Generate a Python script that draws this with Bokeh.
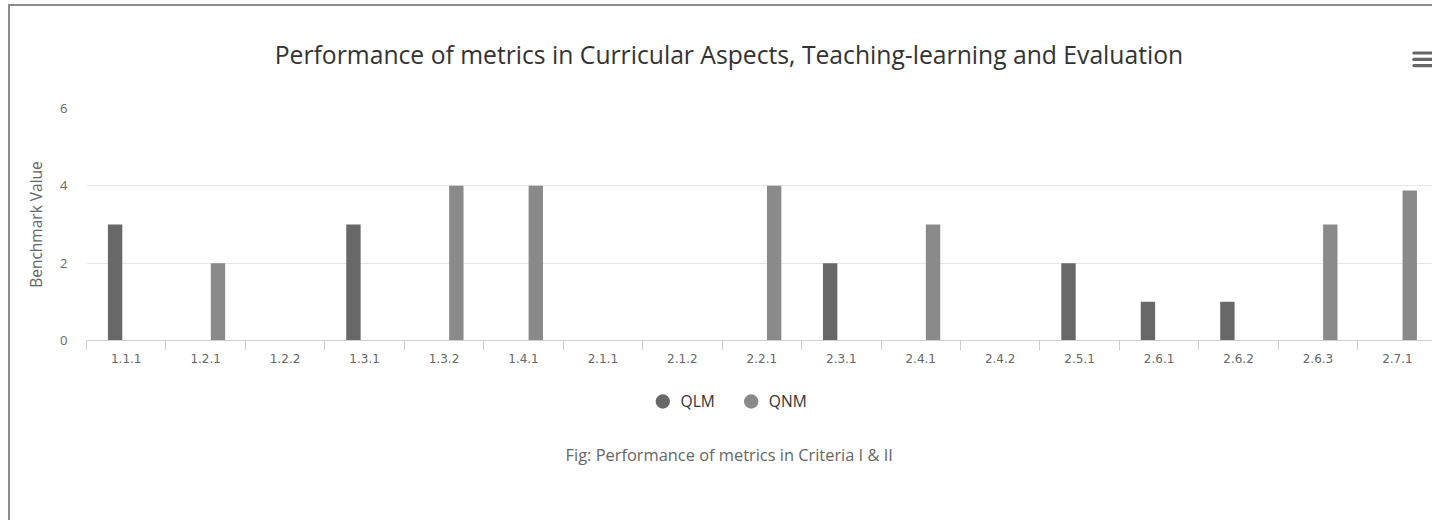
from bokeh.plotting import figure
from bokeh.layouts import column
from bokeh.models import Range1d, FixedTicker
from bokeh.core.properties import value
from bokeh.embed import file_html
from bokeh.resources import INLINE

# ---------------- data ----------------
categories = ["1.1.1", "1.2.1", "1.2.2", "1.3.1", "1.3.2", "1.4.1", "2.1.1", "2.1.2",
              "2.2.1", "2.3.1", "2.4.1", "2.4.2", "2.5.1", "2.6.1", "2.6.2", "2.6.3", "2.7.1"]
qlm = [3, 0, 0, 3, 0, 0, 0, 0, 0, 2, 0, 0, 2, 1, 1, 0, 0]
qnm = [0, 2, 0, 0, 4, 4, 0, 0, 4, 0, 3, 0, 0, 0, 0, 3, 3.88]
series_names = ["QLM", "QNM"]
y_ticks = [0, 2, 4, 6]

title_text = "Performance of metrics in Curricular Aspects, Teaching-learning and Evaluation"
caption_text = "Fig: Performance of metrics in Criteria I & II"
y_label = "Benchmark Value"

# ---------------- styling / geometry (page pixels) ----------------
C_QLM = "#686868"
C_QNM = "#8a8a8a"
BORDER = 2
X0, Y0 = 8 + BORDER, 4 + BORDER       # page position of content
W = 1432 - X0
TOP_H, MAIN_H = 90, 290
BOT_H = 520 - Y0 - TOP_H - MAIN_H
MAIN_TOP = Y0 + TOP_H                 # page y of main figure
FR_L, FR_T, FR_B = 86, 108, 340       # page frame edges
XU = 79.45                            # px per category
X_END = (1432 - FR_L) / XU


def deco_fig(y_top, h):
    f = figure(width=W, height=h, x_range=Range1d(FR_L, 1432), y_range=Range1d(y_top + h, y_top),
               output_backend="svg", toolbar_location=None, title=None,
               x_axis_location=None, y_axis_location=None,
               min_border_left=FR_L - X0, min_border_right=0, min_border_top=0, min_border_bottom=0)
    f.outline_line_color = None
    f.grid.visible = False
    f.background_fill_color = "white"
    f.border_fill_color = "white"
    return f


# ---------- top: title + menu icon ----------
top = deco_fig(Y0, TOP_H)
top.text(x=[728.5], y=[53.5], text=[title_text], text_align="center",
         text_baseline="alphabetic", text_font=value("Open Sans"),
         text_font_size="24.7px", text_color="#333333")
for yc in (52.5, 58.8, 65.1):
    top.segment(x0=[1413.4], y0=[yc], x1=[1450], y1=[yc], line_width=3.2,
                line_color="#666666", line_cap="round")

# ---------- main chart ----------
p = figure(width=W, height=MAIN_H, x_range=Range1d(0, X_END), y_range=Range1d(0, 6),
           output_backend="svg", toolbar_location=None, title=None,
           min_border_left=FR_L - X0, min_border_right=0,
           min_border_top=FR_T - MAIN_TOP,
           min_border_bottom=MAIN_H - (FR_T - MAIN_TOP) - (FR_B - FR_T))
p.outline_line_color = None
p.background_fill_color = "white"
p.border_fill_color = "white"

idx = list(range(len(categories)))
bw = 0.181
p.vbar(x=[i + 0.36 for i in idx], top=qlm, width=bw, color=C_QLM, line_color=None)
p.vbar(x=[i + 0.655 for i in idx], top=qnm, width=bw, color=C_QNM, line_color=None)

xa = p.xaxis[0]
xa.ticker = FixedTicker(ticks=[i + 0.5 for i in idx], minor_ticks=list(range(len(categories) + 1)))
xa.major_label_overrides = {i + 0.5: c for i, c in zip(idx, categories)}
xa.major_tick_line_color = None
xa.major_tick_out = 0
xa.major_tick_in = 0
xa.minor_tick_line_color = "#cfcfcf"
xa.minor_tick_out = 10
xa.minor_tick_in = 0
xa.axis_line_color = "#cfcfcf"
xa.major_label_text_font = "DejaVu Sans"
xa.major_label_text_font_size = "12px"
xa.major_label_text_color = "#666666"
xa.major_label_standoff = 3

ya = p.yaxis[0]
ya.ticker = FixedTicker(ticks=y_ticks)
ya.axis_line_color = None
ya.major_tick_line_color = None
ya.minor_tick_line_color = None
ya.major_tick_out = 0
ya.major_tick_in = 0
ya.major_label_text_font = "Open Sans"
ya.major_label_text_font_size = "13px"
ya.major_label_text_color = "#666666"
ya.major_label_standoff = 19
ya.axis_label = y_label
ya.axis_label_text_font = "Open Sans"
ya.axis_label_text_font_size = "15.5px"
ya.axis_label_text_font_style = "normal"
ya.axis_label_text_color = "#666666"
ya.axis_label_standoff = 10

p.xgrid.visible = False
p.ygrid.ticker = FixedTicker(ticks=y_ticks)
p.ygrid.grid_line_color = "#e6e6e6"

# ---------- bottom: legend + caption ----------
bot = deco_fig(MAIN_TOP + MAIN_H, BOT_H)
leg_cx = [662.3, 750.7]
leg_tx = [680.0, 768.3]
bot.scatter(x=leg_cx, y=[401, 401], marker="circle", size=14.4,
            color=[C_QLM, C_QNM], line_color=None)
bot.text(x=leg_tx, y=[400.5, 400.5], text=series_names, text_align="left",
         text_baseline="alphabetic", text_font=value("Open Sans"),
         text_font_size="15.6px", text_color="#333333")
bot.text(x=[728.7], y=[454], text=[caption_text], text_align="center",
         text_baseline="alphabetic", text_font=value("Open Sans"),
         text_font_size="16.4px", text_color="#666666")

layout = column(top, p, bot, spacing=0)
layout.styles = {"margin-left": "8px", "margin-top": "4px",
                 "border-left": f"{BORDER}px solid #8c8c8c",
                 "border-top": f"{BORDER}px solid #8c8c8c"}

open("out.html", "w").write(file_html(layout, INLINE))
